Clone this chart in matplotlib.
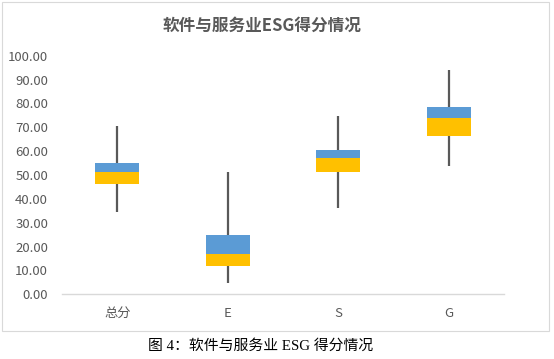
import matplotlib.pyplot as plt
from matplotlib.patches import Rectangle
import numpy as np

plt.rcParams['font.family'] = ['Noto Sans CJK SC', 'DejaVu Sans']

# box plot stats
categories = ['总分', 'E', 'S', 'G']
low = [34.3, 4.9, 36.2, 53.8]
q1 = [46.3, 12.0, 51.3, 66.4]
median = [51.2, 16.9, 57.0, 74.0]
q3 = [54.9, 24.7, 60.4, 78.5]
high = [70.5, 51.2, 74.6, 93.8]
yticks = [0, 10, 20, 30, 40, 50, 60, 70, 80, 90, 100]

grey = '#595959'

fig = plt.figure(figsize=(5.54, 3.59), dpi=100)

# chart frame like the excel chart area
fig.patches.append(Rectangle((2 / 554, 1 - 331 / 359), 547 / 554, 329 / 359,
                             transform=fig.transFigure, fill=False,
                             edgecolor='#D9D9D9', linewidth=0.8))

ax = fig.add_axes([62 / 554, 1 - 294.3 / 359, 442 / 554, 238.6 / 359])

x = np.arange(len(categories)) + 0.5
q1 = np.array(q1)
median = np.array(median)
q3 = np.array(q3)

# whiskers first so the boxes sit on top
ax.vlines(x, low, high, color=grey, linewidth=1.6, zorder=1)
ax.bar(x, median - q1, 0.4, bottom=q1, color='#FFC000', zorder=2)
ax.bar(x, q3 - median, 0.4, bottom=median, color='#5B9BD5', zorder=2)

ax.set_xlim(0, 4)
ax.set_ylim(0, 100)
ax.set_xticks(x)
ax.set_xticklabels(categories)
ax.set_yticks(yticks)
ax.set_yticklabels(['%.2f' % v for v in yticks])
ax.tick_params(axis='both', length=0, colors=grey, labelsize=9.5)
ax.tick_params(axis='y', pad=10)
ax.tick_params(axis='x', pad=9)

for s in ['top', 'right', 'left']:
    ax.spines[s].set_visible(False)
ax.spines['bottom'].set_color('#D9D9D9')
ax.spines['bottom'].set_linewidth(1)

fig.text(262 / 554, 1 - 26 / 359, '软件与服务业ESG得分情况', ha='center', va='center',
         fontsize=12, fontweight='bold', color=grey)

fig.text(261 / 554, 1 - 346 / 359, '图 4：软件与服务业 ESG 得分情况', ha='center',
         va='center', fontsize=10.7, color='black',
         family=['Liberation Serif', 'Noto Sans CJK SC'])

fig.savefig('out.png', dpi=100)
